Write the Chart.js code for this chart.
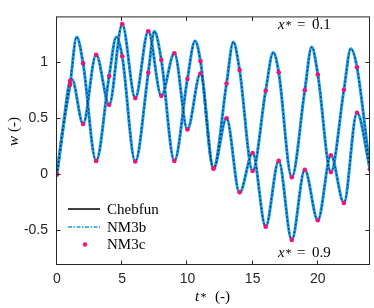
<!DOCTYPE html>
<html lang="en">
<head>
<meta charset="UTF-8">
<title>w(t*) at x* = 0.1 and x* = 0.9</title>
<style>
  html, body { margin: 0; padding: 0; background: #fff; }
  #wrap { width: 374px; height: 308px; }
</style>
</head>
<body>
<div id="wrap"><canvas id="chart" width="374" height="308"></canvas></div>
<script src="https://cdn.jsdelivr.net/npm/chart.js"></script>
<script>
// NM3c samples at integer times
const tDots = [0,1,2,3,4,5,6,7,8,9,10,11,12,13,14,15,16,17,18,19,20,21,22,23,24];
const wDots01 = [0,0.80,0.99,0.12,0.877,1.053,0.115,0.907,1.02,0.12,0.85,1.01,0.055,0.81,0.93,0.03,0.745,0.91,-0.025,0.75,0.89,0.02,0.755,0.955,0.045];
const wDots09 = [0,0.835,0.45,1.066,0.62,1.34,0.68,1.276,0.70,1.08,0.40,0.90,0.05,0.50,-0.16,0.19,-0.467,0.12,-0.585,0.04,-0.41,0.17,-0.255,0.55,0.045];

// curve points (integer times + peaks)
const tLine01 = [0,0.5,1,1.51,2,3,4,4.55,5,6,7,7.46,8,9,10,10.58,11,12,13,13.52,14,15,16,16.58,17,18,19,19.53,20,21,22,22.53,23,24];
const wLine01 = [0,0.44,0.80,1.226,0.99,0.12,0.877,1.226,1.053,0.115,0.907,1.276,1.02,0.12,0.85,1.19,1.01,0.055,0.81,1.18,0.93,0.03,0.745,1.087,0.91,-0.025,0.75,1.137,0.89,0.02,0.755,1.12,0.955,0.045];
const tLine09 = [0,0.5,1,1.15,2,3,4,5,6,7,8,9,10,11,12,13,14,15,16,17,18,19,20,21,22,23,24];
const wLine09 = [0,0.45,0.835,0.845,0.45,1.066,0.62,1.34,0.68,1.276,0.70,1.08,0.40,0.90,0.05,0.50,-0.165,0.19,-0.467,0.12,-0.585,0.04,-0.41,0.17,-0.255,0.55,0.045];

const xTicks = [0,5,10,15,20];
const yTicks = [-0.5,0,0.5,1];

const BLUE = '#1a98ec';
const PINK = '#f0147a';
const AXIS = '#262626';
const SERIF = '"Liberation Serif", "Times New Roman", serif';

const toXY = (ts, ws) => ts.map((t, i) => ({ x: t, y: ws[i] }));

function blueLine(ts, ws) {
    return { data: toXY(ts, ws), borderColor: BLUE, borderWidth: 3, pointRadius: 0,
             cubicInterpolationMode: 'monotone', fill: false, order: 2 };
}
function blackLine(ts, ws) {
    return { data: toXY(ts, ws), borderColor: '#111', borderWidth: 1, borderDash: [1.5, 2.5],
             pointRadius: 0, cubicInterpolationMode: 'monotone', fill: false, order: 1 };
}
function dots(ws) {
    return { data: toXY(tDots, ws), showLine: false, pointRadius: 2.3, pointBorderWidth: 0,
             pointBackgroundColor: PINK, borderColor: PINK, order: 0 };
}

// box with inward ticks, legend, labels
const decorations = {
    id: 'decorations',
    afterDraw(chart) {
        const { ctx, chartArea: a, scales: { x, y } } = chart;
        ctx.save();
        ctx.strokeStyle = AXIS;
        ctx.lineWidth = 1;
        const L = a.left - 0.5, R = a.right - 0.5, T = a.top - 0.5, B = a.bottom + 0.5;
        ctx.strokeRect(L, T, R - L, B - T);
        ctx.beginPath();
        xTicks.forEach(v => {
            const px = Math.round(x.getPixelForValue(v)) - 0.5;
            ctx.moveTo(px, B); ctx.lineTo(px, B - 4);
            ctx.moveTo(px, T); ctx.lineTo(px, T + 4);
        });
        yTicks.forEach(v => {
            const py = Math.round(y.getPixelForValue(v)) + 0.5;
            ctx.moveTo(L, py); ctx.lineTo(L + 4, py);
            ctx.moveTo(R, py); ctx.lineTo(R - 4, py);
        });
        ctx.stroke();

        // legend
        ctx.lineWidth = 1.5;
        ctx.strokeStyle = '#000';
        ctx.beginPath(); ctx.moveTo(68, 209); ctx.lineTo(100, 209); ctx.stroke();
        ctx.strokeStyle = BLUE;
        ctx.setLineDash([4, 1.5, 1.5, 1.5]);
        ctx.beginPath(); ctx.moveTo(68, 227); ctx.lineTo(100, 227); ctx.stroke();
        ctx.setLineDash([]);
        ctx.fillStyle = PINK;
        ctx.beginPath(); ctx.arc(85, 244.5, 2.2, 0, Math.PI * 2); ctx.fill();

        ctx.fillStyle = '#000';
        ctx.textBaseline = 'alphabetic';
        ctx.textAlign = 'left';
        ctx.font = '15px ' + SERIF;
        ctx.fillText('Chebfun', 107, 213.5);
        ctx.fillText('NM3b', 107, 231.5);
        ctx.fillText('NM3c', 107, 249);

        // curve labels
        [['0.1', 29], ['0.9', 257]].forEach(([val, base]) => {
            ctx.font = 'italic 15px ' + SERIF;
            ctx.fillText('x', 278, base);
            ctx.font = '12px ' + SERIF;
            ctx.fillText('*', 285.5, base);
            ctx.font = '15px ' + SERIF;
            ctx.fillText('=', 297, base);
            ctx.fillText(val, 312, base);
        });

        // axis titles
        ctx.font = 'italic 15px ' + SERIF;
        ctx.fillText('t', 195, 301);
        ctx.font = '12px ' + SERIF;
        ctx.fillText('*', 200.5, 301);
        ctx.font = '15px ' + SERIF;
        ctx.fillText('(-)', 215, 301);

        ctx.translate(18, 146);
        ctx.rotate(-Math.PI / 2);
        ctx.font = 'italic 15px ' + SERIF;
        ctx.fillText('w', 0, 0);
        ctx.font = '15px ' + SERIF;
        ctx.fillText('(-)', 14, 0);
        ctx.restore();
    }
};

const tickFont = { family: '"Liberation Sans", Arial, sans-serif', size: 14 };

new Chart(document.getElementById('chart'), {
    type: 'line',
    data: {
        datasets: [
            dots(wDots01), dots(wDots09),
            blackLine(tLine01, wLine01), blackLine(tLine09, wLine09),
            blueLine(tLine01, wLine01), blueLine(tLine09, wLine09)
        ]
    },
    options: {
        responsive: false,
        animation: false,
        devicePixelRatio: 1,
        layout: { padding: { top: 2, right: 4, left: 0, bottom: 0 } },
        plugins: { legend: { display: false }, tooltip: { enabled: false } },
        scales: {
            x: {
                type: 'linear', min: 0, max: 24,
                afterBuildTicks: s => { s.ticks = xTicks.map(v => ({ value: v })); },
                afterFit: s => { s.height = 44; },
                grid: { display: false, drawTicks: false },
                border: { display: false },
                ticks: { font: tickFont, color: AXIS, padding: 7, maxRotation: 0, autoSkip: false,
                         callback: v => String(v) }
            },
            y: {
                type: 'linear', min: -0.8, max: 1.4,
                afterBuildTicks: s => { s.ticks = yTicks.map(v => ({ value: v })); },
                afterFit: s => { s.width = 57; },
                grid: { display: false, drawTicks: false },
                border: { display: false },
                ticks: { font: tickFont, color: AXIS, padding: 9, autoSkip: false,
                         callback: v => String(v) }
            }
        }
    },
    plugins: [decorations]
});
</script>
</body>
</html>
